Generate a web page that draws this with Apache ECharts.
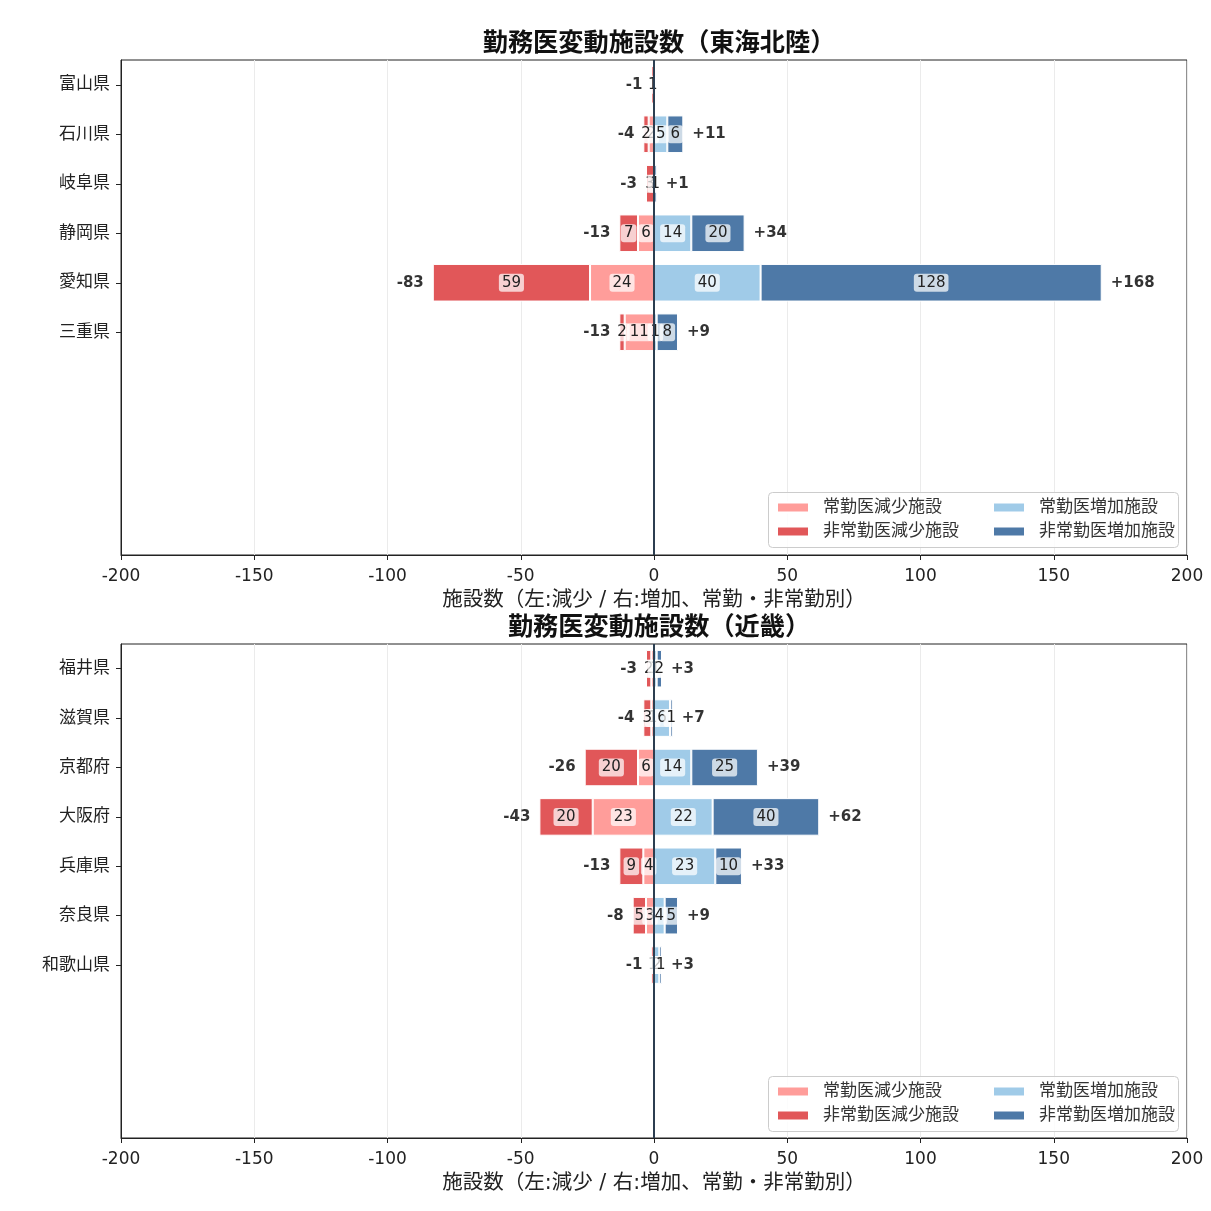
<!DOCTYPE html>
<html>
<head>
<meta charset="utf-8">
<script src="https://cdn.jsdelivr.net/npm/echarts@6/dist/echarts.min.js"></script>
<style>
  html, body { margin: 0; padding: 0; background: #fff; }
  #chart { width: 1211px; height: 1211px; }
</style>
</head>
<body>
<div id="chart"></div>
<script>
// 東海北陸
const tokaiPrefs = ["富山県", "石川県", "岐阜県", "静岡県", "愛知県", "三重県"];
const tokaiFullDec = [0, 2, 0, 6, 24, 11];   // 常勤医減少施設
const tokaiPartDec = [1, 2, 3, 7, 59, 2];    // 非常勤医減少施設
const tokaiFullInc = [0, 5, 0, 14, 40, 1];   // 常勤医増加施設
const tokaiPartInc = [0, 6, 1, 20, 128, 8];  // 非常勤医増加施設

// 近畿
const kinkiPrefs = ["福井県", "滋賀県", "京都府", "大阪府", "兵庫県", "奈良県", "和歌山県"];
const kinkiFullDec = [1, 1, 6, 23, 4, 3, 0];
const kinkiPartDec = [2, 3, 20, 20, 9, 5, 1];
const kinkiFullInc = [1, 6, 14, 22, 23, 4, 2];
const kinkiPartInc = [2, 1, 25, 40, 10, 5, 1];

const xTicks = [-200, -150, -100, -50, 0, 50, 100, 150, 200];
const seriesNames = ["常勤医減少施設", "非常勤医減少施設", "常勤医増加施設", "非常勤医増加施設"];
const colors = ["#FF9D9A", "#E15759", "#A0CBE8", "#4E79A7"];
const SLOTS = 10;

const FONT = "'DejaVu Sans', 'Noto Sans CJK JP', sans-serif";

var myChart = echarts.init(document.getElementById("chart"), null, { renderer: "canvas" });

function barData(vals, sign) {
  return vals.map(function (v) {
    return { value: sign * v, label: { show: v !== 0 } };
  });
}

function makeSeries(idx, stack, fullDec, partDec, fullInc, partInc) {
  const groups = [
    barData(fullDec, -1),
    barData(partDec, -1),
    barData(fullInc, 1),
    barData(partInc, 1),
  ];
  const out = groups.map(function (data, k) {
    return {
      name: seriesNames[k],
      type: "bar",
      stack: stack,
      xAxisIndex: idx,
      yAxisIndex: idx,
      barWidth: "76%",
      data: data,
      itemStyle: { color: colors[k], borderColor: "#fff", borderWidth: 1 },
      label: {
        position: "inside",
        formatter: function (p) { return Math.abs(p.value); },
        fontFamily: FONT,
        fontSize: 15,
        color: "#222",
        backgroundColor: "rgba(255,255,255,0.72)",
        borderRadius: 3,
        padding: [2, 3, 1, 3],
      },
    };
  });
  // 合計ラベル
  const leftTotals = fullDec.map(function (v, i) { return -(v + partDec[i]); });
  const rightTotals = fullInc.map(function (v, i) { return v + partInc[i]; });
  out.push({
    type: "scatter",
    xAxisIndex: idx,
    yAxisIndex: idx,
    symbolSize: 0,
    silent: true,
    z: 5,
    data: leftTotals.map(function (v, i) { return { value: [v, i], label: { show: v !== 0 } }; }),
    label: {
      position: "left",
      distance: 9,
      formatter: function (p) { return String(p.value[0]); },
      fontFamily: FONT,
      fontSize: 15,
      fontWeight: "bold",
      color: "#000",
    },
    markLine: {
      silent: true,
      symbol: ["none", "none"],
      label: { show: false },
      lineStyle: { color: "#2c3e50", width: 2, type: "solid" },
      data: [{ xAxis: 0 }],
    },
  });
  out.push({
    type: "scatter",
    xAxisIndex: idx,
    yAxisIndex: idx,
    symbolSize: 0,
    silent: true,
    z: 5,
    data: rightTotals.map(function (v, i) { return { value: [v, i], label: { show: v !== 0 } }; }),
    label: {
      position: "right",
      distance: 9,
      formatter: function (p) { return "+" + p.value[0]; },
      fontFamily: FONT,
      fontSize: 15,
      fontWeight: "bold",
      color: "#000",
    },
  });
  return out;
}

function xAxisFor(idx) {
  return {
    type: "value",
    gridIndex: idx,
    min: xTicks[0],
    max: xTicks[xTicks.length - 1],
    interval: 50,
    name: "施設数（左:減少 / 右:増加、常勤・非常勤別）",
    nameLocation: "middle",
    nameGap: 35,
    nameTextStyle: { fontFamily: FONT, fontSize: 20.5, color: "#222" },
    axisLine: { show: true, onZero: false, lineStyle: { color: "#222", width: 1 } },
    axisTick: { show: true, length: 5, lineStyle: { color: "#222" } },
    axisLabel: { fontFamily: FONT, fontSize: 17, color: "#222", margin: 13 },
    splitLine: { show: true, lineStyle: { color: "#ebebeb", width: 1 } },
  };
}

function yAxisFor(idx, prefs) {
  return {
    type: "category",
    gridIndex: idx,
    data: prefs,
    max: SLOTS - 1,
    inverse: true,
    axisLine: { show: true, onZero: false, lineStyle: { color: "#222", width: 1 } },
    axisTick: {
      show: true,
      length: 5,
      alignWithLabel: true,
      interval: function (i) { return i < prefs.length; },
      lineStyle: { color: "#222" },
    },
    axisLabel: { fontFamily: FONT, fontSize: 17, color: "#222", margin: 11 },
    splitLine: { show: false },
  };
}

function legendFor(names, left, top) {
  return {
    data: names,
    orient: "vertical",
    left: left,
    top: top,
    padding: 0,
    itemGap: 7,
    itemWidth: 32,
    itemHeight: 10,
    icon: "rect",
    selectedMode: false,
    textStyle: { fontFamily: FONT, fontSize: 17, color: "#333", lineHeight: 17, padding: [0, 0, 0, 9] },
  };
}

function legendBox(top) {
  return {
    type: "rect",
    left: 768,
    top: top,
    z: 3,
    shape: { width: 410, height: 55, r: 4 },
    style: { fill: "rgba(255,255,255,0.85)", stroke: "#cccccc", lineWidth: 1 },
  };
}

var option = {
  backgroundColor: "#fff",
  animation: false,
  title: [
    {
      text: "勤務医変動施設数（東海北陸）",
      left: 654,
      textAlign: "center",
      top: 27,
      textStyle: { fontFamily: FONT, fontSize: 25.2, fontWeight: "bold", color: "#111" },
    },
    {
      text: "勤務医変動施設数（近畿）",
      left: 654,
      textAlign: "center",
      top: 611,
      textStyle: { fontFamily: FONT, fontSize: 25.2, fontWeight: "bold", color: "#111" },
    },
  ],
  grid: [
    { left: 121, top: 60, width: 1066, height: 495, show: true, borderColor: "#222", borderWidth: 1, backgroundColor: "transparent" },
    { left: 121, top: 644, width: 1066, height: 494, show: true, borderColor: "#222", borderWidth: 1, backgroundColor: "transparent" },
  ],
  legend: [
    legendFor(seriesNames.slice(0, 2), 776, 499),
    legendFor(seriesNames.slice(2, 4), 992, 499),
    legendFor(seriesNames.slice(0, 2), 776, 1083),
    legendFor(seriesNames.slice(2, 4), 992, 1083),
  ],
  graphic: [legendBox(492), legendBox(1076)],
  xAxis: [xAxisFor(0), xAxisFor(1)],
  yAxis: [yAxisFor(0, tokaiPrefs), yAxisFor(1, kinkiPrefs)],
  series: makeSeries(0, "tokai", tokaiFullDec, tokaiPartDec, tokaiFullInc, tokaiPartInc)
    .concat(makeSeries(1, "kinki", kinkiFullDec, kinkiPartDec, kinkiFullInc, kinkiPartInc)),
};

option && myChart.setOption(option);
</script>
</body>
</html>
